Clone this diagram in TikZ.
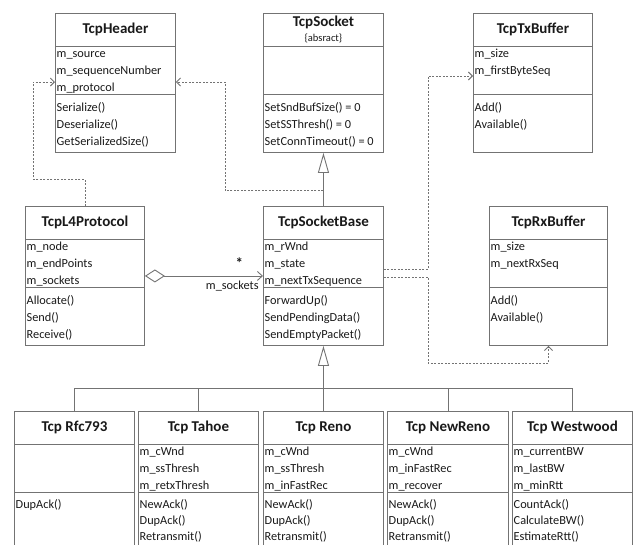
\documentclass[tikz,border=0pt]{standalone}
\usepackage{fontspec}
\setmainfont{Carlito}
\usetikzlibrary{calc}
\usetikzlibrary{arrows.meta}
\definecolor{linegray}{gray}{0.45}
\definecolor{textgray}{gray}{0.1}
\tikzset{
  classbox/.style={draw=linegray, line width=0.9pt, minimum height=139pt, inner sep=0pt},
  boxline/.style={draw=linegray, line width=0.9pt},
  classtitle/.style={font=\fontsize{15}{16}\selectfont\bfseries, text=textgray, align=center, inner sep=0pt},
  member/.style={font=\fontsize{12.3}{14}\selectfont, text=textgray, anchor=base west, inner sep=0pt},
  conn/.style={draw=linegray, line width=0.9pt},
  dep/.style={conn, dash pattern=on 2pt off 1.5pt, -{Straight Barb[length=4pt,width=8pt]}},
  gen/.style={conn, -{Triangle[open, length=20pt, width=11pt]}},
}
% first method baseline and method spacing
\newcommand{\mfirst}{98}
\newcommand{\mstep}{17}
% class box: name, left, top, width, title, attributes, methods
\newcommand{\umlclass}[7]{
  \node[classbox, minimum width=#4pt, anchor=north west] (#1) at (#2,-#3) {};
  \draw[boxline] ($(#1.north west)+(0,-33)$) -- ($(#1.north east)+(0,-33)$);
  \draw[boxline] ($(#1.north west)+(0,-81)$) -- ($(#1.north east)+(0,-81)$);
  \node[classtitle] (#1-title) at ($(#1.north)+(0,-16.5)$) {#5};
  \foreach \m [count=\i] in {#6}
    \node[member] (#1-a\i) at ($(#1.north west)+(1.5,{-44-17*(\i-1)})$) {\m};
  \foreach \m [count=\i] in {#7}
    \node[member] (#1-m\i) at ($(#1.north west)+(1.5,{-\mfirst-\mstep*(\i-1)})$) {\m};
}

\begin{document}
\begin{tikzpicture}[x=1pt, y=1pt]
  \useasboundingbox (0,0) rectangle (636,-544);
  \clip (0,0) rectangle (636,-544);
  % top row
  \umlclass{header}{55}{13}{120}{TcpHeader}{m\_source, m\_sequenceNumber, m\_protocol}{Serialize(), Deserialize(), GetSerializedSize()}
  \umlclass{socket}{263}{13}{120}{\raisebox{-2pt}{TcpSocket}\\[1pt]{\fontsize{10.5}{11}\selectfont\mdseries\{absract\}}}{}{SetSndBufSize() = 0, SetSSThresh() = 0, SetConnTimeout() = 0}
  \umlclass{tx}{473}{13}{119}{TcpTxBuffer}{m\_size, m\_firstByteSeq}{Add(), Available()}
  % middle row
  \umlclass{l4}{25}{206}{119}{TcpL4Protocol}{m\_node, m\_endPoints, m\_sockets}{Allocate(), Send(), Receive()}
  \umlclass{sbase}{263}{206}{120}{TcpSocketBase}{m\_rWnd, m\_state, m\_nextTxSequence}{ForwardUp(), SendPendingData(), SendEmptyPacket()}
  \umlclass{rx}{489}{206}{118}{TcpRxBuffer}{m\_size, m\_nextRxSeq}{Add(), Available()}
  % bottom row
  \renewcommand{\mfirst}{97}
  \renewcommand{\mstep}{16}
  \umlclass{rfc}{14}{411}{120}{Tcp Rfc793}{}{DupAck()}
  \umlclass{tahoe}{138}{411}{120}{Tcp Tahoe}{m\_cWnd, m\_ssThresh, m\_retxThresh}{NewAck(), DupAck(), Retransmit()}
  \umlclass{reno}{263}{411}{120}{Tcp Reno}{m\_cWnd, m\_ssThresh, m\_inFastRec}{NewAck(), DupAck(), Retransmit()}
  \umlclass{newreno}{387}{411}{121}{Tcp NewReno}{m\_cWnd, m\_inFastRec, m\_recover}{NewAck(), DupAck(), Retransmit()}
  \umlclass{west}{512}{411}{120}{Tcp Westwood}{m\_currentBW, m\_lastBW, m\_minRtt}{CountAck(), CalculateBW(), EstimateRtt()}

  % inheritance
  \draw[gen] (sbase.north) -- (socket.south);
  \coordinate (bar) at (sbase.south |- 0,-388);
  \draw[conn] (rfc.north) -- (rfc.north |- bar) -- (west.north |- bar) -- (west.north);
  \foreach \c in {tahoe, reno, newreno}
    \draw[conn] (\c.north) -- (\c.north |- bar);
  \draw[gen] (bar) -- (sbase.south);

  % aggregation
  \draw[conn, {Diamond[open, length=20pt, width=13pt]}-{Straight Barb[length=5pt,width=9pt]}]
    (l4.east) -- (l4.east -| sbase.west)
    node[pos=0.8, above=4pt, font=\fontsize{15}{16}\selectfont\bfseries, text=textgray] (mult) {*}
    node[pos=1, anchor=north east, xshift=-4pt, yshift=-4.5pt, inner sep=0pt,
         font=\fontsize{12.3}{14}\selectfont, text=textgray] (role) {m\_sockets};

  % dependencies
  \coordinate (tap) at ($(socket.south)+(0,-38)$);
  \draw[dep] (l4.north) |- (33,-179) |- (header.west |- 0,-82);
  \draw[dep] (tap) -| (225,-82) -- (header.east |- 0,-82);
  \draw[dep] (sbase.east |- 0,-269) -| (428,-76) -- (tx.west |- 0,-76);
  \draw[dep] (sbase.east |- 0,-277) -| (428,-363) -| (rx.south);
\end{tikzpicture}
\end{document}
